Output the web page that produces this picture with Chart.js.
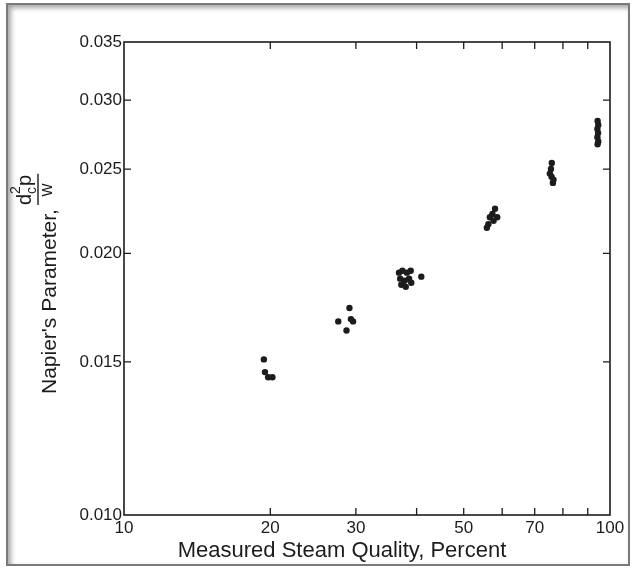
<!DOCTYPE html>
<html>
<head>
<meta charset="utf-8">
<script src="https://cdn.jsdelivr.net/npm/chart.js@4/dist/chart.umd.min.js"></script>
<style>
  body { margin: 0; background: #fff; }
  #wrap { position: relative; width: 632px; height: 575px; }
  #frame {
    position: absolute; left: 6px; top: 3px; width: 620px; height: 559px;
    border: 2px solid #7a7a7a;
    box-shadow: inset 3px 3px 5px rgba(0,0,0,0.35);
  }
  #chart { position: absolute; left: 0; top: 0; }
</style>
</head>
<body>
<div id="wrap">
  <div id="frame"></div>
  <canvas id="chart" width="632" height="575"></canvas>
</div>
<script>
// Measured steam quality (percent) and Napier's parameter
const steamQuality = [
  19.4, 19.5, 19.8, 20.2,
  27.6, 29.1, 28.7, 29.3, 29.6,
  36.8, 37.4, 38.2, 38.9, 37.0, 37.8, 38.6, 37.2, 38.0, 39.0, 40.9,
  58.0, 57.3, 58.6, 56.6, 57.6, 56.2, 55.8,
  75.9, 75.6, 75.2, 75.8, 76.5, 76.3,
  94.3, 94.6, 94.2, 94.5, 94.2, 94.6, 94.3
];
const napierParam = [
  0.0151, 0.0146, 0.0144, 0.0144,
  0.0167, 0.0173, 0.0163, 0.0168, 0.0167,
  0.0190, 0.0191, 0.0190, 0.0191, 0.0187, 0.0186, 0.0187, 0.0184, 0.0183, 0.0185, 0.0188,
  0.0225, 0.0222, 0.0220, 0.0220, 0.0218, 0.0216, 0.0214,
  0.0254, 0.0250, 0.0247, 0.0245, 0.0243, 0.0241,
  0.0284, 0.0281, 0.0278, 0.0275, 0.0272, 0.0269, 0.0267
];

// Axis ticks
const xTicks = [10, 20, 30, 50, 70, 100];
const xTickMarks = [20, 30, 40, 50, 60, 70, 80, 90];
const yTicks = [0.010, 0.015, 0.020, 0.025, 0.030, 0.035];

const FONT = '"Liberation Sans", Arial, sans-serif';
const INK = '#1c1c1c';

// frame, inward tick marks and axis titles
const paperAxes = {
  id: 'paperAxes',
  afterDraw(chart) {
    const { ctx, chartArea: a, scales: { x, y } } = chart;
    ctx.save();
    ctx.strokeStyle = INK;
    ctx.lineWidth = 1.6;
    ctx.strokeRect(a.left, a.top, a.right - a.left, a.bottom - a.top);

    ctx.lineWidth = 1.3;
    ctx.beginPath();
    xTickMarks.forEach(v => {
      const px = x.getPixelForValue(v);
      ctx.moveTo(px, a.bottom); ctx.lineTo(px, a.bottom - 7);
      ctx.moveTo(px, a.top); ctx.lineTo(px, a.top + 7);
    });
    yTicks.slice(1, -1).forEach(v => {
      const py = y.getPixelForValue(v);
      ctx.moveTo(a.left, py); ctx.lineTo(a.left + 7, py);
      ctx.moveTo(a.right, py); ctx.lineTo(a.right - 7, py);
    });
    ctx.stroke();

    // x title
    ctx.fillStyle = INK;
    ctx.font = '22px ' + FONT;
    ctx.textAlign = 'center';
    ctx.textBaseline = 'alphabetic';
    ctx.fillText('Measured Steam Quality, Percent', 342, 557);

    // y title, rotated, with the d_c^2 p / w fraction
    ctx.translate(56, 394);
    ctx.rotate(-Math.PI / 2);
    ctx.textAlign = 'left';
    const main = "Napier's Parameter,";
    ctx.font = '21px ' + FONT;
    ctx.fillText(main, 0, 0);
    const fx = ctx.measureText(main).width + 4;
    ctx.font = '20px ' + FONT;
    const dW = ctx.measureText('d').width;
    ctx.fillText('d', fx, -25);
    ctx.font = '14px ' + FONT;
    ctx.fillText('2', fx + dW, -36);
    ctx.fillText('c', fx + dW, -20.5);
    const subW = ctx.measureText('c').width;
    ctx.font = '20px ' + FONT;
    ctx.fillText('p', fx + dW + subW + 1, -25);
    const numW = dW + subW + 1 + ctx.measureText('p').width;
    ctx.lineWidth = 1.4;
    ctx.beginPath();
    ctx.moveTo(fx, -18); ctx.lineTo(fx + numW + 1, -18);
    ctx.stroke();
    ctx.font = '18px ' + FONT;
    const wW = ctx.measureText('w').width;
    ctx.fillText('w', fx + (numW - wW) / 2, -4);
    ctx.restore();
  }
};

new Chart(document.getElementById('chart'), {
  type: 'scatter',
  data: {
    datasets: [{
      data: steamQuality.map((q, i) => ({ x: q, y: napierParam[i] })),
      backgroundColor: INK,
      borderColor: INK,
      pointRadius: 3.2,
      pointBorderWidth: 0
    }]
  },
  options: {
    responsive: false,
    animation: false,
    layout: { padding: { top: 42, right: 22, left: 0, bottom: 0 } },
    plugins: { legend: { display: false }, tooltip: { enabled: false } },
    scales: {
      x: {
        type: 'logarithmic',
        min: 10,
        max: 100,
        grid: { display: false, drawTicks: false },
        border: { display: false },
        afterBuildTicks: s => { s.ticks = xTicks.map(v => ({ value: v })); },
        afterFit: s => { s.height = 60; },
        ticks: {
          autoSkip: false, maxRotation: 0, padding: 3,
          color: INK, font: { family: FONT, size: 17 },
          callback: v => String(v)
        }
      },
      y: {
        type: 'logarithmic',
        min: 0.010,
        max: 0.035,
        grid: { display: false, drawTicks: false },
        border: { display: false },
        afterBuildTicks: s => { s.ticks = yTicks.map(v => ({ value: v })); },
        afterFit: s => { s.width = 124; },
        ticks: {
          autoSkip: false, padding: 2,
          color: INK, font: { family: FONT, size: 17 },
          callback: v => Number(v).toFixed(3)
        }
      }
    }
  },
  plugins: [paperAxes]
});
</script>
</body>
</html>
